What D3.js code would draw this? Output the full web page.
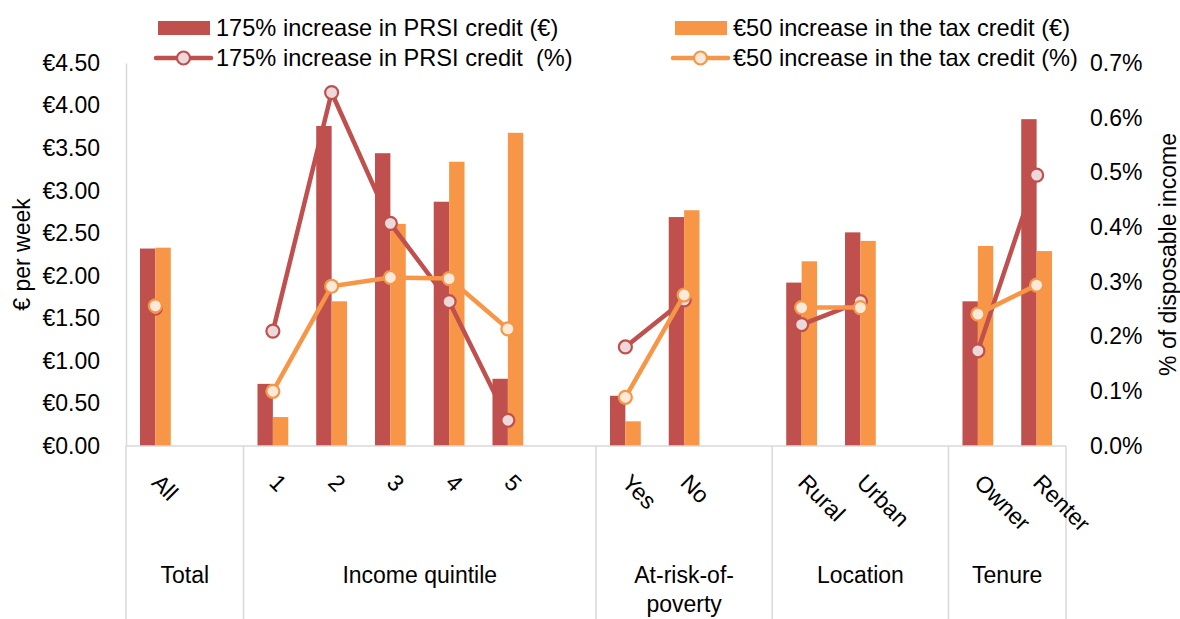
<!DOCTYPE html>
<html>
<head>
<meta charset="utf-8">
<script src="https://cdn.jsdelivr.net/npm/d3@7"></script>
<style>
  html, body { margin: 0; padding: 0; background: #fff; }
  svg { display: block; }
  text { font-family: "Liberation Sans", Arial, sans-serif; fill: #000; white-space: pre; }
</style>
</head>
<body>
<svg id="chart" width="1180" height="619"></svg>
<script>
// ---- data ----
const categories = ["All", "", "1", "2", "3", "4", "5", "", "Yes", "No", "", "Rural", "Urban", "", "Owner", "Renter"];
const groups = [
  { name: ["Total"], span: 2 },
  { name: ["Income quintile"], span: 6 },
  { name: ["At-risk-of-", "poverty"], span: 3 },
  { name: ["Location"], span: 3 },
  { name: ["Tenure"], span: 2 }
];
const prsiEuro = [2.32, null, 0.73, 3.76, 3.44, 2.87, 0.79, null, 0.59, 2.69, null, 1.92, 2.51, null, 1.70, 3.84];
const taxEuro  = [2.33, null, 0.34, 1.70, 2.61, 3.34, 3.68, null, 0.29, 2.77, null, 2.17, 2.41, null, 2.35, 2.29];
const prsiPct  = [0.252, null, 0.210, 0.646, 0.407, 0.264, 0.047, null, 0.181, 0.267, null, 0.222, 0.264, null, 0.174, 0.495];
const taxPct   = [0.256, null, 0.100, 0.292, 0.308, 0.306, 0.214, null, 0.089, 0.276, null, 0.253, 0.253, null, 0.241, 0.294];
const leftTicks = [0, 0.5, 1.0, 1.5, 2.0, 2.5, 3.0, 3.5, 4.0, 4.5];
const rightTicks = [0, 0.1, 0.2, 0.3, 0.4, 0.5, 0.6, 0.7];
const seriesNames = [
  "175% increase in PRSI credit (€)",
  "€50 increase in the tax credit (€)",
  "175% increase in PRSI credit  (%)",
  "€50 increase in the tax credit (%)"
];
const leftTitle = "€ per week";
const rightTitle = "% of disposable income";

// ---- styles ----
const RED = "#C0504D", ORANGE = "#F79646";
const RED_FILL = "#EDD9DA", ORANGE_FILL = "#FDE9D9";
const AXIS = "#D9D9D9";
const FS = 23;
const LEG_FS = 23.6;

const svg = d3.select("#chart");
const L = 126, R = 1066, T = 63, B = 446, BOTTOM = 619;

const x = d3.scaleBand().domain(d3.range(categories.length)).range([L, R]).padding(0);
const bw = x.bandwidth();
const barW = bw * 0.262;
const yL = d3.scaleLinear().domain([0, 4.5]).range([B, T]);
const yR = d3.scaleLinear().domain([0, 0.7]).range([B, T]);

// bars
const idx = d3.range(categories.length);
svg.append("g").selectAll("rect").data(idx.filter(i => prsiEuro[i] != null)).join("rect")
  .attr("x", i => x(i) + bw / 2 - barW).attr("width", barW)
  .attr("y", i => yL(prsiEuro[i])).attr("height", i => B - yL(prsiEuro[i]))
  .attr("fill", RED);
svg.append("g").selectAll("rect").data(idx.filter(i => taxEuro[i] != null)).join("rect")
  .attr("x", i => x(i) + bw / 2).attr("width", barW)
  .attr("y", i => yL(taxEuro[i])).attr("height", i => B - yL(taxEuro[i]))
  .attr("fill", ORANGE);

// axes
const gl = svg.append("g").attr("transform", `translate(${L},0)`)
  .call(d3.axisLeft(yL).tickValues(leftTicks).tickSize(0).tickPadding(26)
    .tickFormat(d => "€" + d.toFixed(2)));
gl.select(".domain").attr("stroke", AXIS).attr("stroke-width", 1.5);
gl.selectAll("text").attr("font-size", FS).attr("font-family", null);

const gr = svg.append("g").attr("transform", `translate(${R},0)`)
  .call(d3.axisRight(yR).tickValues(rightTicks).tickSize(0).tickPadding(24)
    .tickFormat(d => d.toFixed(1) + "%"));
gr.select(".domain").remove();
gr.selectAll("text").attr("font-size", FS).attr("font-family", null);

// category axis lines
svg.append("line").attr("x1", L).attr("x2", R).attr("y1", B).attr("y2", B)
  .attr("stroke", AXIS).attr("stroke-width", 1.5);
let acc = 0;
const bounds = [0];
groups.forEach(g => { acc += g.span; bounds.push(acc); });
svg.append("g").selectAll("line").data(bounds).join("line")
  .attr("x1", b => b < categories.length ? x(b) : R).attr("x2", b => b < categories.length ? x(b) : R)
  .attr("y1", B).attr("y2", BOTTOM)
  .attr("stroke", AXIS).attr("stroke-width", 1.5);

// category labels (rotated)
svg.append("g").selectAll("text").data(idx.filter(i => categories[i] !== "")).join("text")
  .attr("transform", i => `translate(${x(i) + bw / 2 - 5},484) rotate(45)`)
  .attr("font-size", FS).attr("text-anchor", "start")
  .text(i => categories[i]);

// group labels
groups.forEach((g, k) => {
  const x0 = x(bounds[k]);
  const x1 = bounds[k + 1] < categories.length ? x(bounds[k + 1]) : R;
  const t = svg.append("text").attr("x", (x0 + x1) / 2).attr("y", 575)
    .attr("text-anchor", "middle").attr("dominant-baseline", "central").attr("font-size", FS);
  g.name.forEach((n, j) => {
    t.append("tspan").attr("x", (x0 + x1) / 2).attr("dy", j === 0 ? 0 : 29).text(n);
  });
});

// lines
function drawLine(vals, color, fill) {
  const g = svg.append("g");
  g.append("path").datum(idx)
    .attr("d", d3.line().defined(i => vals[i] != null).x(i => x(i) + bw / 2).y(i => yR(vals[i])))
    .attr("fill", "none").attr("stroke", color).attr("stroke-width", 4.5)
    .attr("stroke-linejoin", "round").attr("stroke-linecap", "round");
  g.selectAll("circle").data(idx.filter(i => vals[i] != null)).join("circle")
    .attr("cx", i => x(i) + bw / 2).attr("cy", i => yR(vals[i])).attr("r", 6.5)
    .attr("fill", fill).attr("stroke", color).attr("stroke-width", 2.2);
}
drawLine(prsiPct, RED, RED_FILL);
drawLine(taxPct, ORANGE, ORANGE_FILL);

// axis titles
svg.append("text").attr("transform", `translate(22,${(T + B) / 2}) rotate(-90)`)
  .attr("text-anchor", "middle").attr("dominant-baseline", "central").attr("font-size", FS)
  .text(leftTitle);
svg.append("text").attr("transform", `translate(1168,${(T + B) / 2}) rotate(-90)`)
  .attr("text-anchor", "middle").attr("dominant-baseline", "central").attr("font-size", FS)
  .text(rightTitle);

// legend
const legend = [
  { name: seriesNames[0], type: "bar", color: RED, x: 158, y: 28 },
  { name: seriesNames[1], type: "bar", color: ORANGE, x: 675, y: 28 },
  { name: seriesNames[2], type: "line", color: RED, fill: RED_FILL, x: 158, y: 58 },
  { name: seriesNames[3], type: "line", color: ORANGE, fill: ORANGE_FILL, x: 675, y: 58 }
];
legend.forEach(d => {
  const g = svg.append("g");
  if (d.type === "bar") {
    g.append("rect").attr("x", d.x).attr("y", d.y - 7).attr("width", 52).attr("height", 14).attr("fill", d.color);
  } else {
    g.append("line").attr("x1", d.x - 2).attr("x2", d.x + 53).attr("y1", d.y).attr("y2", d.y)
      .attr("stroke", d.color).attr("stroke-width", 4.5).attr("stroke-linecap", "round");
    g.append("circle").attr("cx", d.x + 25.5).attr("cy", d.y).attr("r", 6.5)
      .attr("fill", d.fill).attr("stroke", d.color).attr("stroke-width", 2.2);
  }
  g.append("text").attr("x", d.x + 58).attr("y", d.y).attr("dominant-baseline", "central")
    .attr("font-size", LEG_FS).text(d.name);
});
</script>
</body>
</html>
